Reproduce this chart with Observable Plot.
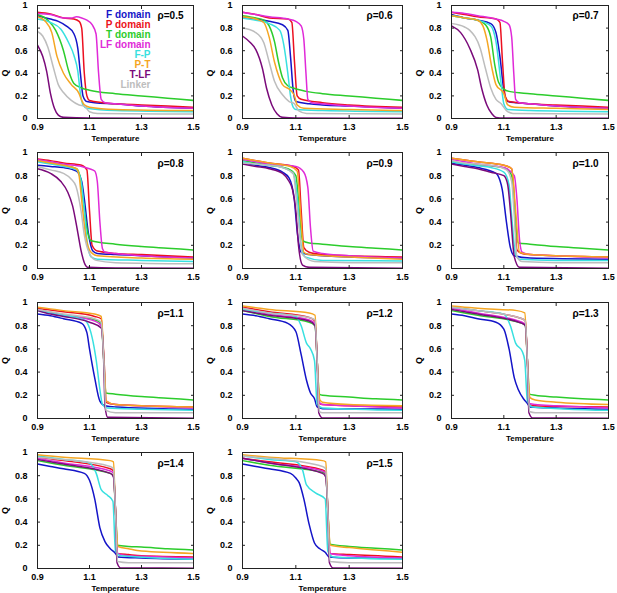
<!DOCTYPE html>
<html><head><meta charset="utf-8">
<script src="https://cdn.jsdelivr.net/npm/d3@7"></script>
<script src="https://cdn.jsdelivr.net/npm/@observablehq/plot@0.6"></script>
<style>
html,body{margin:0;padding:0;background:#fff;}
#chart{position:relative;width:617px;height:593px;overflow:hidden;background:#fff;}
#chart svg{position:absolute;}
</style></head><body><div id="chart"></div>
<script>
// ---- data ----
const seriesKeys = ["F","P","T","LF","FP","PT","TLF","L"];
const seriesNames = ["F domain","P domain","T domain","LF domain","F-P","P-T","T-LF","Linker"];
const seriesColors = ["#1414c8","#ec1020","#2ccc2c","#e02ad8","#38e0e0","#f5a623","#7a0a7a","#bdbdbd"];
const rhoLabels = ["ρ=0.5","ρ=0.6","ρ=0.7","ρ=0.8","ρ=0.9","ρ=1.0","ρ=1.1","ρ=1.2","ρ=1.3","ρ=1.4","ρ=1.5"];
const xTicks = [0.9, 1.1, 1.3, 1.5];
const xTickLabels = ["0.9","1.1","1.3","1.5"];
const yTicks = [0, 0.2, 0.4, 0.6, 0.8, 1];
const yTickLabels = ["0","0.2","0.4","0.6","0.8","1"];
const xLabel = "Temperature";
const yLabel = "Q";

const p05 = {
  F: [[0.9,0.91],[0.95,0.88],[0.98,0.86],[1.01,0.82],[1.04,0.75],[1.055,0.62],[1.065,0.4],[1.075,0.2],[1.09,0.15],[1.12,0.14],[1.2,0.13],[1.3,0.11],[1.5,0.09]],
  P: [[0.9,0.94],[0.95,0.925],[1.0,0.89],[1.04,0.88],[1.06,0.86],[1.07,0.8],[1.08,0.4],[1.09,0.2],[1.1,0.16],[1.15,0.14],[1.2,0.13],[1.3,0.12],[1.5,0.1]],
  T: [[0.9,0.92],[0.94,0.87],[0.97,0.78],[1.0,0.6],[1.02,0.42],[1.04,0.31],[1.07,0.27],[1.1,0.25],[1.2,0.22],[1.3,0.2],[1.4,0.18],[1.5,0.16]],
  LF: [[0.9,0.93],[0.95,0.92],[1.0,0.89],[1.03,0.89],[1.05,0.9],[1.07,0.89],[1.09,0.87],[1.11,0.83],[1.125,0.75],[1.135,0.4],[1.145,0.17],[1.16,0.14],[1.2,0.13],[1.3,0.11],[1.5,0.09]],
  FP: [[0.9,0.88],[0.95,0.85],[0.99,0.79],[1.02,0.67],[1.04,0.56],[1.055,0.42],[1.065,0.22],[1.075,0.12],[1.09,0.09],[1.2,0.07],[1.5,0.06]],
  PT: [[0.9,0.9],[0.93,0.86],[0.955,0.76],[0.975,0.55],[1.0,0.4],[1.03,0.3],[1.06,0.22],[1.07,0.16],[1.08,0.12],[1.1,0.1],[1.2,0.08],[1.5,0.07]],
  TLF: [[0.9,0.65],[0.92,0.55],[0.935,0.42],[0.95,0.22],[0.965,0.09],[0.98,0.03],[1.0,0.01],[1.1,0.004],[1.5,0.003]],
  L: [[0.9,0.77],[0.92,0.73],[0.94,0.63],[0.96,0.46],[0.98,0.3],[1.0,0.23],[1.03,0.16],[1.06,0.12],[1.08,0.11],[1.1,0.06],[1.13,0.045],[1.5,0.04]]
};
const p06 = {
  F: [[0.9,0.9],[0.95,0.88],[1.0,0.86],[1.05,0.83],[1.07,0.78],[1.08,0.55],[1.09,0.25],[1.1,0.15],[1.15,0.13],[1.2,0.12],[1.3,0.11],[1.5,0.09]],
  P: [[0.9,0.94],[0.95,0.92],[1.0,0.89],[1.07,0.88],[1.085,0.85],[1.095,0.5],[1.105,0.2],[1.12,0.17],[1.2,0.14],[1.3,0.12],[1.5,0.1]],
  T: [[0.9,0.91],[0.95,0.89],[0.98,0.87],[1.0,0.82],[1.02,0.68],[1.035,0.5],[1.05,0.36],[1.07,0.29],[1.09,0.27],[1.14,0.24],[1.2,0.22],[1.3,0.2],[1.4,0.18],[1.5,0.16]],
  LF: [[0.9,0.94],[0.95,0.92],[1.0,0.9],[1.07,0.88],[1.1,0.86],[1.12,0.82],[1.13,0.7],[1.138,0.4],[1.145,0.17],[1.16,0.14],[1.2,0.13],[1.3,0.11],[1.5,0.09]],
  FP: [[0.9,0.89],[0.95,0.87],[1.0,0.84],[1.04,0.78],[1.055,0.65],[1.07,0.4],[1.08,0.2],[1.09,0.1],[1.1,0.08],[1.2,0.07],[1.5,0.06]],
  PT: [[0.9,0.9],[0.95,0.88],[0.98,0.85],[1.0,0.72],[1.02,0.5],[1.035,0.38],[1.05,0.3],[1.08,0.25],[1.095,0.2],[1.105,0.12],[1.13,0.09],[1.3,0.08],[1.5,0.07]],
  TLF: [[0.9,0.73],[0.93,0.67],[0.95,0.61],[0.975,0.44],[0.99,0.27],[1.01,0.12],[1.03,0.04],[1.05,0.01],[1.1,0.004],[1.5,0.003]],
  L: [[0.9,0.8],[0.95,0.76],[0.98,0.67],[1.0,0.5],[1.02,0.33],[1.05,0.21],[1.075,0.15],[1.095,0.13],[1.11,0.07],[1.14,0.045],[1.5,0.04]]
};
const p07 = {
  F: [[0.9,0.92],[0.95,0.89],[1.0,0.87],[1.05,0.84],[1.07,0.76],[1.085,0.55],[1.1,0.25],[1.115,0.15],[1.15,0.14],[1.2,0.13],[1.3,0.11],[1.5,0.09]],
  P: [[0.9,0.94],[0.95,0.92],[1.0,0.9],[1.07,0.88],[1.085,0.85],[1.095,0.5],[1.105,0.2],[1.12,0.15],[1.2,0.13],[1.3,0.12],[1.5,0.1]],
  T: [[0.9,0.91],[0.95,0.89],[1.0,0.87],[1.03,0.83],[1.05,0.72],[1.065,0.48],[1.08,0.32],[1.1,0.26],[1.12,0.24],[1.2,0.22],[1.3,0.2],[1.4,0.18],[1.5,0.16]],
  LF: [[0.9,0.94],[0.95,0.93],[1.0,0.91],[1.07,0.88],[1.1,0.86],[1.12,0.83],[1.13,0.72],[1.138,0.4],[1.145,0.17],[1.16,0.14],[1.2,0.13],[1.3,0.11],[1.5,0.09]],
  FP: [[0.9,0.91],[0.95,0.89],[1.0,0.87],[1.05,0.82],[1.07,0.68],[1.09,0.3],[1.1,0.13],[1.115,0.08],[1.2,0.07],[1.5,0.06]],
  PT: [[0.9,0.91],[0.95,0.89],[1.0,0.87],[1.02,0.82],[1.035,0.7],[1.055,0.44],[1.07,0.3],[1.1,0.22],[1.115,0.12],[1.14,0.1],[1.3,0.09],[1.5,0.08]],
  TLF: [[0.9,0.82],[0.935,0.76],[0.97,0.62],[1.0,0.43],[1.015,0.27],[1.035,0.12],[1.055,0.04],[1.07,0.01],[1.1,0.004],[1.5,0.003]],
  L: [[0.9,0.84],[0.95,0.81],[0.97,0.78],[1.01,0.62],[1.03,0.44],[1.05,0.27],[1.07,0.17],[1.09,0.13],[1.11,0.07],[1.135,0.045],[1.5,0.04]]
};
const p08 = {
  F: [[0.9,0.89],[0.95,0.88],[1.0,0.87],[1.05,0.84],[1.07,0.75],[1.08,0.6],[1.096,0.3],[1.113,0.15],[1.13,0.13],[1.2,0.12],[1.3,0.11],[1.5,0.09]],
  P: [[0.9,0.945],[0.95,0.93],[1.0,0.91],[1.07,0.89],[1.09,0.85],[1.1,0.5],[1.11,0.2],[1.13,0.15],[1.2,0.13],[1.3,0.12],[1.5,0.1]],
  T: [[0.9,0.93],[0.95,0.91],[1.0,0.89],[1.05,0.86],[1.065,0.78],[1.075,0.6],[1.094,0.3],[1.106,0.24],[1.2,0.21],[1.3,0.19],[1.4,0.175],[1.5,0.16]],
  LF: [[0.9,0.94],[0.95,0.92],[1.0,0.9],[1.07,0.88],[1.1,0.86],[1.12,0.84],[1.13,0.75],[1.14,0.4],[1.15,0.17],[1.16,0.14],[1.2,0.13],[1.3,0.11],[1.5,0.09]],
  FP: [[0.9,0.92],[0.95,0.9],[1.0,0.88],[1.05,0.85],[1.068,0.75],[1.078,0.55],[1.09,0.25],[1.106,0.1],[1.13,0.08],[1.3,0.07],[1.5,0.06]],
  PT: [[0.9,0.93],[0.95,0.91],[1.0,0.89],[1.05,0.86],[1.06,0.8],[1.068,0.63],[1.087,0.26],[1.106,0.14],[1.13,0.11],[1.3,0.09],[1.5,0.08]],
  TLF: [[0.9,0.86],[0.95,0.82],[0.99,0.75],[1.016,0.66],[1.035,0.54],[1.055,0.31],[1.068,0.15],[1.08,0.05],[1.094,0.01],[1.2,0.004],[1.5,0.003]],
  L: [[0.9,0.88],[0.95,0.85],[1.0,0.82],[1.03,0.77],[1.048,0.71],[1.068,0.49],[1.08,0.29],[1.1,0.13],[1.126,0.07],[1.2,0.05],[1.5,0.04]]
};
const p09 = {
  F: [[0.9,0.91],[0.95,0.89],[1.0,0.87],[1.05,0.83],[1.075,0.78],[1.094,0.6],[1.106,0.3],[1.12,0.14],[1.15,0.12],[1.2,0.11],[1.3,0.1],[1.5,0.09]],
  P: [[0.9,0.95],[0.95,0.93],[1.0,0.91],[1.09,0.88],[1.11,0.85],[1.12,0.5],[1.13,0.18],[1.15,0.14],[1.2,0.12],[1.3,0.11],[1.5,0.1]],
  T: [[0.9,0.93],[0.95,0.91],[1.0,0.89],[1.07,0.86],[1.1,0.8],[1.115,0.45],[1.125,0.24],[1.15,0.22],[1.2,0.21],[1.3,0.19],[1.4,0.175],[1.5,0.16]],
  LF: [[0.9,0.94],[0.95,0.92],[1.0,0.9],[1.1,0.88],[1.13,0.83],[1.145,0.7],[1.155,0.35],[1.165,0.15],[1.2,0.13],[1.3,0.11],[1.5,0.09]],
  FP: [[0.9,0.92],[0.95,0.9],[1.0,0.89],[1.05,0.87],[1.09,0.82],[1.106,0.6],[1.12,0.2],[1.135,0.1],[1.2,0.07],[1.5,0.065]],
  PT: [[0.9,0.95],[0.95,0.93],[1.0,0.91],[1.08,0.88],[1.105,0.84],[1.12,0.4],[1.13,0.14],[1.15,0.12],[1.3,0.1],[1.5,0.08]],
  TLF: [[0.9,0.9],[0.95,0.88],[1.0,0.86],[1.05,0.82],[1.075,0.75],[1.0875,0.68],[1.1,0.5],[1.11,0.2],[1.125,0.03],[1.15,0.01],[1.5,0.003]],
  L: [[0.9,0.91],[0.95,0.9],[1.0,0.89],[1.05,0.87],[1.09,0.82],[1.106,0.5],[1.125,0.12],[1.17,0.06],[1.3,0.05],[1.5,0.05]]
};
const p10 = {
  F: [[0.9,0.905],[0.95,0.89],[1.0,0.87],[1.07,0.82],[1.085,0.76],[1.094,0.68],[1.11,0.4],[1.125,0.18],[1.14,0.11],[1.2,0.09],[1.5,0.08]],
  P: [[0.9,0.95],[0.95,0.935],[1.0,0.92],[1.1,0.89],[1.13,0.86],[1.14,0.6],[1.15,0.16],[1.17,0.13],[1.2,0.12],[1.3,0.11],[1.5,0.1]],
  T: [[0.9,0.92],[0.95,0.905],[1.0,0.895],[1.05,0.885],[1.11,0.86],[1.13,0.8],[1.145,0.4],[1.155,0.22],[1.2,0.21],[1.3,0.19],[1.4,0.175],[1.5,0.16]],
  LF: [[0.9,0.94],[0.95,0.92],[1.0,0.9],[1.1,0.87],[1.14,0.8],[1.15,0.6],[1.16,0.25],[1.17,0.14],[1.2,0.12],[1.3,0.11],[1.5,0.09]],
  FP: [[0.9,0.92],[0.95,0.9],[1.0,0.885],[1.05,0.87],[1.1,0.83],[1.12,0.72],[1.13,0.45],[1.145,0.12],[1.16,0.08],[1.3,0.07],[1.5,0.07]],
  PT: [[0.9,0.95],[0.95,0.935],[1.0,0.92],[1.1,0.89],[1.13,0.86],[1.145,0.5],[1.16,0.14],[1.2,0.12],[1.3,0.11],[1.5,0.1]],
  TLF: [[0.9,0.9],[0.95,0.88],[1.0,0.86],[1.05,0.83],[1.1,0.8],[1.115,0.72],[1.125,0.5],[1.14,0.1],[1.16,0.01],[1.5,0.003]],
  L: [[0.9,0.93],[0.95,0.91],[1.0,0.9],[1.05,0.89],[1.11,0.85],[1.13,0.75],[1.14,0.45],[1.15,0.1],[1.17,0.06],[1.3,0.05],[1.5,0.05]]
};
const p11 = {
  F: [[0.9,0.9],[0.95,0.885],[1.0,0.86],[1.07,0.82],[1.09,0.74],[1.1,0.6],[1.12,0.35],[1.14,0.15],[1.16,0.11],[1.2,0.1],[1.5,0.08]],
  P: [[0.9,0.95],[0.95,0.935],[1.0,0.92],[1.12,0.88],[1.145,0.86],[1.155,0.5],[1.163,0.14],[1.2,0.12],[1.3,0.11],[1.5,0.1]],
  T: [[0.9,0.94],[0.95,0.915],[1.0,0.89],[1.12,0.85],[1.145,0.82],[1.155,0.5],[1.163,0.22],[1.2,0.21],[1.3,0.19],[1.4,0.175],[1.5,0.16]],
  LF: [[0.9,0.94],[0.95,0.915],[1.0,0.89],[1.12,0.84],[1.145,0.8],[1.156,0.5],[1.164,0.15],[1.2,0.12],[1.3,0.11],[1.5,0.09]],
  FP: [[0.9,0.93],[0.95,0.91],[1.0,0.89],[1.08,0.85],[1.1,0.78],[1.11,0.7],[1.126,0.5],[1.14,0.25],[1.15,0.12],[1.17,0.09],[1.3,0.08],[1.5,0.07]],
  PT: [[0.9,0.96],[0.95,0.945],[1.0,0.93],[1.12,0.9],[1.145,0.88],[1.156,0.5],[1.165,0.15],[1.2,0.12],[1.3,0.11],[1.5,0.1]],
  TLF: [[0.9,0.93],[0.95,0.9],[1.0,0.88],[1.1,0.83],[1.145,0.78],[1.153,0.6],[1.16,0.1],[1.17,0.01],[1.5,0.003]],
  L: [[0.9,0.94],[0.95,0.92],[1.0,0.9],[1.12,0.86],[1.145,0.83],[1.155,0.5],[1.163,0.07],[1.2,0.05],[1.5,0.05]]
};
const p12 = {
  F: [[0.9,0.9],[0.95,0.885],[1.0,0.86],[1.07,0.82],[1.1,0.75],[1.12,0.55],[1.14,0.33],[1.155,0.22],[1.17,0.17],[1.18,0.1],[1.2,0.085],[1.5,0.08]],
  P: [[0.9,0.96],[0.95,0.94],[1.0,0.92],[1.15,0.87],[1.172,0.84],[1.18,0.5],[1.188,0.13],[1.2,0.12],[1.3,0.11],[1.5,0.1]],
  T: [[0.9,0.93],[0.95,0.905],[1.0,0.88],[1.15,0.83],[1.172,0.8],[1.18,0.5],[1.188,0.21],[1.2,0.2],[1.3,0.185],[1.4,0.17],[1.5,0.16]],
  LF: [[0.9,0.95],[0.95,0.925],[1.0,0.9],[1.15,0.85],[1.172,0.82],[1.18,0.5],[1.188,0.14],[1.2,0.12],[1.3,0.11],[1.5,0.09]],
  FP: [[0.9,0.94],[0.95,0.925],[1.0,0.91],[1.1,0.88],[1.12,0.8],[1.14,0.65],[1.155,0.6],[1.17,0.5],[1.18,0.12],[1.2,0.09],[1.5,0.07]],
  PT: [[0.9,0.97],[0.95,0.955],[1.0,0.94],[1.15,0.91],[1.172,0.89],[1.18,0.5],[1.19,0.16],[1.2,0.14],[1.3,0.12],[1.5,0.11]],
  TLF: [[0.9,0.93],[0.95,0.91],[1.0,0.89],[1.15,0.84],[1.172,0.8],[1.18,0.5],[1.186,0.05],[1.2,0.005],[1.5,0.003]],
  L: [[0.9,0.95],[0.95,0.93],[1.0,0.91],[1.15,0.87],[1.172,0.85],[1.18,0.5],[1.188,0.06],[1.2,0.05],[1.5,0.05]]
};
const p13 = {
  F: [[0.9,0.9],[0.95,0.885],[1.0,0.86],[1.07,0.83],[1.1,0.77],[1.12,0.6],[1.14,0.35],[1.155,0.25],[1.175,0.17],[1.19,0.13],[1.2,0.1],[1.3,0.09],[1.5,0.08]],
  P: [[0.9,0.96],[0.95,0.945],[1.0,0.93],[1.17,0.86],[1.182,0.84],[1.19,0.5],[1.198,0.12],[1.22,0.11],[1.3,0.105],[1.5,0.1]],
  T: [[0.9,0.93],[0.95,0.91],[1.0,0.89],[1.17,0.82],[1.182,0.8],[1.19,0.5],[1.198,0.21],[1.22,0.2],[1.3,0.185],[1.4,0.17],[1.5,0.16]],
  LF: [[0.9,0.95],[0.95,0.93],[1.0,0.91],[1.17,0.83],[1.182,0.81],[1.19,0.5],[1.198,0.13],[1.22,0.12],[1.3,0.11],[1.5,0.09]],
  FP: [[0.9,0.96],[0.95,0.945],[1.0,0.93],[1.1,0.9],[1.125,0.8],[1.145,0.65],[1.17,0.58],[1.18,0.5],[1.19,0.15],[1.21,0.1],[1.5,0.07]],
  PT: [[0.9,0.97],[0.95,0.96],[1.0,0.95],[1.15,0.93],[1.18,0.91],[1.19,0.5],[1.2,0.18],[1.22,0.16],[1.3,0.14],[1.5,0.12]],
  TLF: [[0.9,0.94],[0.95,0.92],[1.0,0.9],[1.17,0.82],[1.182,0.8],[1.19,0.5],[1.196,0.05],[1.21,0.005],[1.5,0.003]],
  L: [[0.9,0.96],[0.95,0.945],[1.0,0.93],[1.17,0.86],[1.182,0.84],[1.19,0.5],[1.198,0.06],[1.22,0.05],[1.5,0.05]]
};
const p14 = {
  F: [[0.9,0.9],[0.95,0.88],[1.0,0.86],[1.08,0.82],[1.1,0.76],[1.12,0.6],[1.14,0.35],[1.16,0.23],[1.18,0.17],[1.2,0.13],[1.21,0.1],[1.3,0.09],[1.5,0.08]],
  P: [[0.9,0.96],[0.95,0.945],[1.0,0.93],[1.18,0.86],[1.192,0.84],[1.2,0.5],[1.208,0.13],[1.25,0.12],[1.3,0.11],[1.5,0.1]],
  T: [[0.9,0.93],[0.95,0.91],[1.0,0.89],[1.18,0.82],[1.192,0.8],[1.2,0.5],[1.208,0.2],[1.25,0.19],[1.3,0.185],[1.4,0.17],[1.5,0.16]],
  LF: [[0.9,0.95],[0.95,0.93],[1.0,0.91],[1.18,0.84],[1.192,0.82],[1.2,0.5],[1.208,0.13],[1.25,0.11],[1.3,0.105],[1.5,0.09]],
  FP: [[0.9,0.97],[0.95,0.955],[1.0,0.94],[1.1,0.91],[1.126,0.82],[1.145,0.68],[1.17,0.63],[1.19,0.58],[1.2,0.15],[1.22,0.11],[1.5,0.08]],
  PT: [[0.9,0.98],[0.95,0.97],[1.0,0.96],[1.18,0.93],[1.192,0.92],[1.2,0.5],[1.21,0.19],[1.25,0.17],[1.3,0.15],[1.5,0.13]],
  TLF: [[0.9,0.94],[0.95,0.92],[1.0,0.9],[1.18,0.82],[1.192,0.79],[1.2,0.5],[1.206,0.05],[1.22,0.005],[1.5,0.003]],
  L: [[0.9,0.96],[0.95,0.95],[1.0,0.94],[1.18,0.88],[1.192,0.86],[1.2,0.5],[1.208,0.06],[1.25,0.05],[1.5,0.05]]
};
const p15 = {
  F: [[0.9,0.9],[0.95,0.88],[1.0,0.86],[1.08,0.82],[1.1,0.78],[1.1125,0.74],[1.13,0.6],[1.15,0.38],[1.17,0.22],[1.19,0.17],[1.21,0.14],[1.225,0.1],[1.3,0.09],[1.5,0.09]],
  P: [[0.9,0.95],[0.95,0.935],[1.0,0.92],[1.2,0.85],[1.212,0.83],[1.22,0.5],[1.228,0.13],[1.3,0.12],[1.5,0.1]],
  T: [[0.9,0.93],[0.95,0.91],[1.0,0.89],[1.2,0.83],[1.212,0.81],[1.22,0.5],[1.228,0.21],[1.3,0.19],[1.4,0.175],[1.5,0.16]],
  LF: [[0.9,0.95],[0.95,0.93],[1.0,0.91],[1.2,0.84],[1.212,0.82],[1.22,0.5],[1.228,0.13],[1.3,0.11],[1.5,0.09]],
  FP: [[0.9,0.97],[0.95,0.955],[1.0,0.94],[1.1,0.92],[1.125,0.85],[1.14,0.72],[1.175,0.65],[1.21,0.6],[1.22,0.15],[1.24,0.1],[1.5,0.08]],
  PT: [[0.9,0.98],[0.95,0.97],[1.0,0.96],[1.2,0.93],[1.212,0.92],[1.22,0.5],[1.23,0.2],[1.3,0.18],[1.4,0.16],[1.5,0.14]],
  TLF: [[0.9,0.95],[0.95,0.93],[1.0,0.91],[1.2,0.82],[1.212,0.79],[1.22,0.5],[1.226,0.05],[1.24,0.005],[1.5,0.003]],
  L: [[0.9,0.97],[0.95,0.96],[1.0,0.95],[1.2,0.88],[1.212,0.86],[1.22,0.5],[1.228,0.06],[1.3,0.05],[1.5,0.05]]
};
const panels = [p05, p06, p07, p08, p09, p10, p11, p12, p13, p14, p15];

// ---- layout ----
const colLeft = [37, 242, 451];
const colWidth = [156, 160, 157];
const rowTop = [5, 152, 302, 452];
const rowHeight = [113, 116, 116, 116];
const mL = 37, mR = 6, mT = 5, mB = 26;
const font = "'Liberation Sans', Arial, Helvetica, sans-serif";

const xFmt = new Map(xTicks.map((t, i) => [t, xTickLabels[i]]));
const yFmt = new Map(yTicks.map((t, i) => [t, yTickLabels[i]]));
const chart = document.getElementById("chart");

panels.forEach((panel, idx) => {
  const col = idx % 3, row = Math.floor(idx / 3);
  const w = colWidth[col], h = rowHeight[row];
  const rows = seriesKeys.flatMap(k => panel[k].map(([T, Q]) => ({s: k, T, Q})));
  const marks = [
    Plot.line(rows, {x: "T", y: "Q", z: "s", stroke: "s", curve: "monotone-x", strokeWidth: 1.5, clip: true}),
    Plot.frame({stroke: "#222", strokeWidth: 1}),
    Plot.axisX({ticks: xTicks, anchor: "bottom", tickSize: 0, tickPadding: 5.5, tickFormat: d => xFmt.get(d), fontSize: 9, fontWeight: "bold", label: null}),
    Plot.axisY({ticks: yTicks, anchor: "left", tickSize: 0, tickPadding: 10, tickFormat: d => yFmt.get(d), fontSize: 9, fontWeight: "bold", label: null}),
    Plot.axisX({ticks: xTicks, anchor: "bottom", tickSize: 3, dy: -3, fill: "none", stroke: "#222", label: null}),
    Plot.axisX({ticks: xTicks, anchor: "top", tickSize: 3, dy: 3, fill: "none", stroke: "#222", label: null}),
    Plot.axisY({ticks: yTicks, anchor: "left", tickSize: 3, dx: 3, fill: "none", stroke: "#222", label: null}),
    Plot.axisY({ticks: yTicks, anchor: "right", tickSize: 3, dx: -3, fill: "none", stroke: "#222", label: null}),
    Plot.text([xLabel], {frameAnchor: "bottom", dy: 20, text: d => d, fontSize: 8, fontWeight: "bold", lineAnchor: "middle"}),
    Plot.text([yLabel], {frameAnchor: "left", dx: -32, dy: row === 0 ? 11 : 0, rotate: -90, text: d => d, fontSize: 9, fontWeight: "bold", lineAnchor: "middle", textAnchor: "middle"}),
    Plot.text([rhoLabels[idx]], {frameAnchor: "top-right", dx: -10, dy: row === 0 ? 10 : 11.5, text: d => d, fontSize: 10, fontWeight: "bold", textAnchor: "end", lineAnchor: "middle"})
  ];
  if (idx === 0) {
    seriesNames.forEach((name, i) => {
      marks.push(Plot.text([name], {frameAnchor: "top-right", dx: -43, dy: 9.5 + i * 9.95, text: d => d, fill: seriesColors[i], fontSize: 10, fontWeight: "bold", textAnchor: "end", lineAnchor: "middle"}));
    });
  }
  const svg = Plot.plot({
    width: mL + w + mR,
    height: mT + h + mB,
    marginLeft: mL, marginRight: mR, marginTop: mT, marginBottom: mB,
    x: {domain: [0.9, 1.5], axis: null},
    y: {domain: [0, 1], axis: null},
    color: {domain: seriesKeys, range: seriesColors},
    style: {fontFamily: font, color: "#000", background: "transparent", overflow: "visible"},
    marks
  });
  svg.style.left = (colLeft[col] - mL) + "px";
  svg.style.top = (rowTop[row] - mT) + "px";
  chart.appendChild(svg);
});
</script></body></html>
